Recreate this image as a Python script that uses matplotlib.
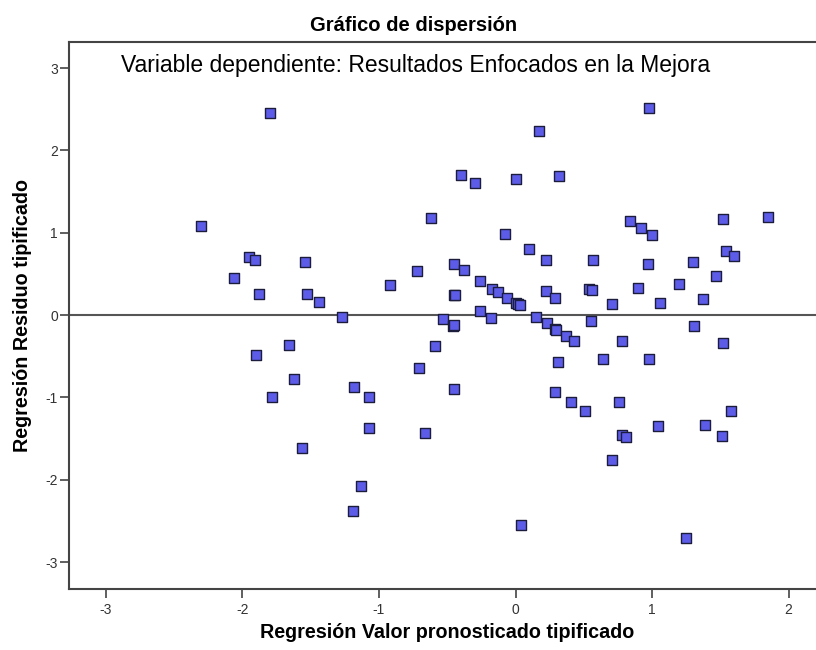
import matplotlib
matplotlib.use("Agg")
import matplotlib.pyplot as plt

# valores pronosticados tipificados (x) y residuos tipificados (y)
pred = [-1.80, -2.30, -1.95, -1.91, -2.06, -1.88, -1.54, -1.53, -1.44, -1.27,
        -0.92, -0.72, -1.90, -1.66, -1.62, -1.78, -1.18, -1.07, -1.07, -1.56,
        -1.13, -1.19, -0.71, 0.98, 0.17, -0.40, -0.30, 0.00, 0.32, -0.62,
        -0.08, 0.84, 0.92, 1.00, 1.52, 1.85, 0.10, 0.22, 0.57, 0.97,
        1.30, 1.54, 1.60, -0.45, -0.38, -0.45, -0.44, -0.26, -0.17, -0.13,
        -0.06, 0.00, 0.02, 0.03, 0.22, 0.29, 0.54, 0.56, 0.71, 0.90,
        1.06, 1.20, 1.37, 1.47, -0.53, -0.46, -0.45, -0.26, -0.18, 0.15,
        0.23, 0.29, 0.30, 0.37, 0.43, -0.59, -0.45, 0.31, 0.29, 0.55,
        1.31, 0.78, 1.52, 0.64, 0.98, -0.66, 0.41, 0.51, 0.76, 0.78,
        0.81, 0.71, 1.04, 1.39, 1.51, 1.58, 0.04, 1.25]
resid = [2.45, 1.08, 0.70, 0.67, 0.45, 0.26, 0.64, 0.26, 0.16, -0.02,
         0.37, 0.53, -0.48, -0.36, -0.78, -0.99, -0.87, -0.99, -1.37, -1.61,
         -2.07, -2.38, -0.64, 2.51, 2.24, 1.70, 1.60, 1.65, 1.69, 1.18,
         0.99, 1.14, 1.06, 0.97, 1.17, 1.19, 0.80, 0.67, 0.67, 0.62,
         0.65, 0.78, 0.72, 0.62, 0.55, 0.24, 0.25, 0.41, 0.32, 0.28,
         0.21, 0.15, 0.13, 0.12, 0.29, 0.21, 0.32, 0.30, 0.14, 0.33,
         0.15, 0.38, 0.20, 0.47, -0.05, -0.13, -0.12, 0.05, -0.04, -0.02,
         -0.10, -0.17, -0.18, -0.25, -0.32, -0.37, -0.90, -0.57, -0.93, -0.07,
         -0.13, -0.31, -0.34, -0.53, -0.53, -1.43, -1.05, -1.16, -1.05, -1.46,
         -1.48, -1.76, -1.35, -1.34, -1.47, -1.17, -2.55, -2.71]

xticks = [-3, -2, -1, 0, 1, 2]
yticks = [-3, -2, -1, 0, 1, 2, 3]

plt.rcParams['font.family'] = ['Liberation Sans', 'DejaVu Sans']
plt.rcParams['axes.unicode_minus'] = False

fig = plt.figure(figsize=(8.16, 6.5), dpi=100)
ax = fig.add_axes([69/816, 60.7/650, 751/816, 547.6/650])

ax.axhline(0, color='#555555', lw=1.5, zorder=1)
ax.scatter(pred, resid, marker='s', s=42, facecolor='#5c5ce8',
           edgecolor='#1c1c3c', linewidth=1.0, zorder=3)

ax.set_xlim(-3.27, 2.23)
ax.set_ylim(-3.33, 3.32)
ax.set_xticks(xticks)
ax.set_yticks(yticks)
ax.tick_params(direction='out', length=6.5, width=1.2, color='#444444',
               labelsize=10, labelcolor='#333333')
ax.tick_params(axis='y', pad=1.5)
ax.tick_params(axis='x', pad=3.5)
for side in ['left', 'bottom', 'top']:
    ax.spines[side].set_color('#444444')
    ax.spines[side].set_linewidth(1.5)
ax.spines['right'].set_visible(False)

fig.text(447/816, 1 - 638/650, 'Regresión Valor pronosticado tipificado',
         ha='center', va='baseline', fontsize=14.2, fontweight='bold')
fig.text(23/816, 1 - 315.5/650, 'Regresión Residuo tipificado',
         ha='center', va='center', rotation=90, fontsize=14.2,
         fontweight='bold')

fig.text(414/816, 1 - 31/650, 'Gráfico de dispersión', ha='center',
         va='baseline', fontsize=14.5, fontweight='bold')
fig.text(415.5/816, 1 - 71.7/650,
         'Variable dependiente: Resultados Enfocados en la Mejora',
         ha='center', va='baseline', fontsize=16.5)

fig.savefig('out.png', dpi=100)
